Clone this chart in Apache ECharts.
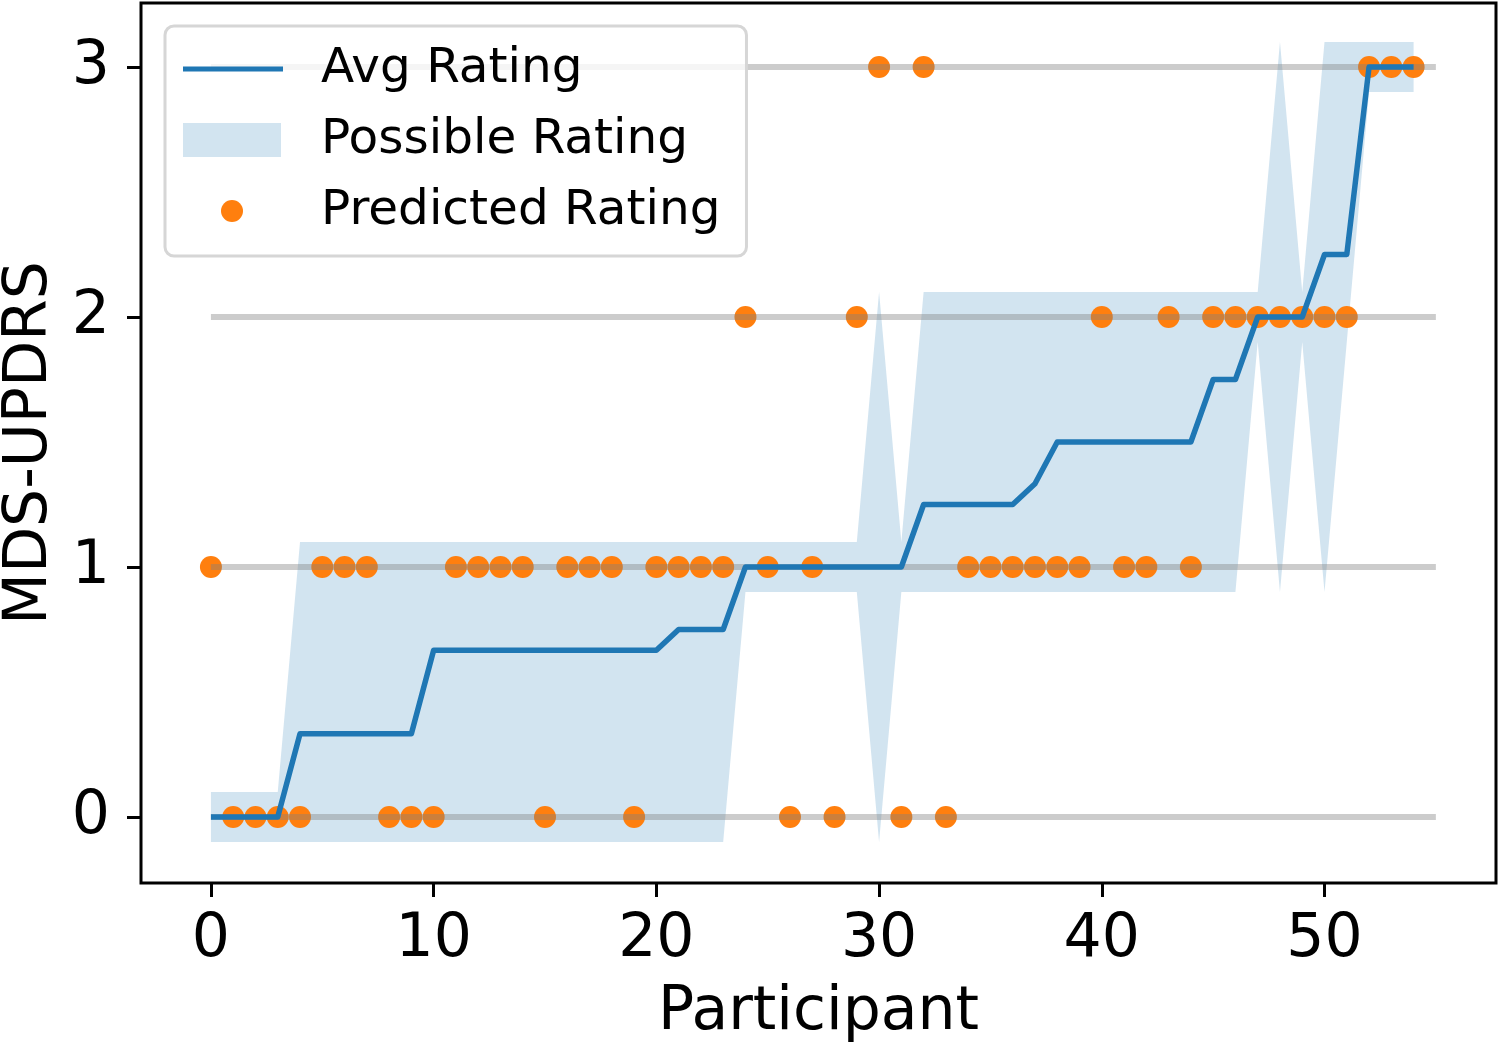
<!DOCTYPE html>
<html>
<head>
<meta charset="utf-8">
<script src="https://cdn.jsdelivr.net/npm/echarts@6/dist/echarts.min.js"></script>
<style>
html,body{margin:0;padding:0;background:#fff;}
#chart{width:1500px;height:1046px;}
</style>
</head>
<body>
<div id="chart"></div>
<script>
// ---- data ----
const participants = [0,1,2,3,4,5,6,7,8,9,10,11,12,13,14,15,16,17,18,19,20,21,22,23,24,25,26,27,28,29,30,31,32,33,34,35,36,37,38,39,40,41,42,43,44,45,46,47,48,49,50,51,52,53,54];
const avgRating = [0,0,0,0,0.333,0.333,0.333,0.333,0.333,0.333,0.667,0.667,0.667,0.667,0.667,0.667,0.667,0.667,0.667,0.667,0.667,0.75,0.75,0.75,1,1,1,1,1,1,1,1,1.25,1.25,1.25,1.25,1.25,1.333,1.5,1.5,1.5,1.5,1.5,1.5,1.5,1.75,1.75,2,2,2,2.25,2.25,3,3,3];
const possibleLower = [-0.1,-0.1,-0.1,-0.1,-0.1,-0.1,-0.1,-0.1,-0.1,-0.1,-0.1,-0.1,-0.1,-0.1,-0.1,-0.1,-0.1,-0.1,-0.1,-0.1,-0.1,-0.1,-0.1,-0.1,0.9,0.9,0.9,0.9,0.9,0.9,-0.1,0.9,0.9,0.9,0.9,0.9,0.9,0.9,0.9,0.9,0.9,0.9,0.9,0.9,0.9,0.9,0.9,1.9,0.9,1.9,0.9,1.9,2.9,2.9,2.9];
const possibleUpper = [0.1,0.1,0.1,0.1,1.1,1.1,1.1,1.1,1.1,1.1,1.1,1.1,1.1,1.1,1.1,1.1,1.1,1.1,1.1,1.1,1.1,1.1,1.1,1.1,1.1,1.1,1.1,1.1,1.1,1.1,2.1,1.1,2.1,2.1,2.1,2.1,2.1,2.1,2.1,2.1,2.1,2.1,2.1,2.1,2.1,2.1,2.1,2.1,3.1,2.1,3.1,3.1,3.1,3.1,3.1];
const predictedRating = [1,0,0,0,0,1,1,1,0,0,0,1,1,1,1,0,1,1,1,0,1,1,1,1,2,1,0,1,0,2,3,0,3,0,1,1,1,1,1,1,2,1,1,2,1,2,2,2,2,2,2,2,3,3,3];
const ratingLevels = [0,1,2,3];
const levelLineStart = 0;
const levelLineEnd = 55;
const xTicks = [0,10,20,30,40,50];
const yTicks = [0,1,2,3];

// ---- chart ----
const FONT = 'DejaVu Sans';
const chart = echarts.init(document.getElementById('chart'), null, {renderer:'canvas'});

const levelSeries = ratingLevels.map(k => ({
  type:'line', name:'level'+k, z:3, silent:true, symbol:'none',
  data:[[levelLineStart,k],[levelLineEnd,k]],
  lineStyle:{color:'rgba(128,128,128,0.4)', width:6}
}));

// legend icons (box 133 x 34, drawn part at left 100px)
const ICON_LINE = 'path://M0,0M133,34M0,14.5L100,14.5L100,19.5L0,19.5Z';
const ICON_PATCH = 'path://M0,0M133,34M0,0L98,0L98,34L0,34Z';
const ICON_DOT = 'path://M0,0M133,34M38,17A11,11,0,1,1,60,17A11,11,0,1,1,38,17Z';

const option = {
  animation:false,
  backgroundColor:'#fff',
  textStyle:{fontFamily:FONT},
  grid:{left:141, right:4, top:3, bottom:163, show:true, borderColor:'#000', borderWidth:3, backgroundColor:'transparent', containLabel:false, outerBoundsMode:'none'},
  legend:{
    orient:'vertical', left:165, top:26,
    padding:[17,26,19,18],
    itemGap:19, itemWidth:133, itemHeight:34,
    backgroundColor:'rgba(255,255,255,0.8)',
    borderColor:'#d6d6d6', borderWidth:3, borderRadius:9,
    textStyle:{fontFamily:FONT, fontSize:48.5, color:'#000', lineHeight:48, padding:[4,0,0,0]},
    selectedMode:false,
    data:[
      {name:'Avg Rating', icon:ICON_LINE, itemStyle:{color:'#1f77b4', opacity:1}},
      {name:'Possible Rating', icon:ICON_PATCH, itemStyle:{color:'rgba(31,119,180,0.2)'}},
      {name:'Predicted Rating', icon:ICON_DOT, itemStyle:{color:'#ff7f0e', opacity:1}}
    ]
  },
  xAxis:{
    type:'value', min:-3.14, max:57.7,
    name:'Participant', nameLocation:'middle', nameGap:100,
    nameTextStyle:{fontFamily:FONT, fontSize:60, color:'#000'},
    axisLine:{show:false, onZero:false},
    axisTick:{show:true, length:14, lineStyle:{color:'#000', width:3}, customValues:xTicks},
    axisLabel:{fontFamily:FONT, fontSize:60, color:'#000', margin:27, customValues:xTicks},
    splitLine:{show:false}
  },
  yAxis:{
    type:'value', min:-0.264, max:3.256,
    name:'MDS-UPDRS', nameLocation:'middle', nameGap:81, nameRotate:90,
    nameTextStyle:{fontFamily:FONT, fontSize:60, color:'#000'},
    axisLine:{show:false, onZero:false},
    axisTick:{show:true, length:14, lineStyle:{color:'#000', width:3}, customValues:yTicks},
    axisLabel:{fontFamily:FONT, fontSize:60, color:'#000', margin:31, customValues:yTicks},
    splitLine:{show:false}
  },
  series:[
    {
      type:'custom', name:'Possible Rating', z:1, silent:true,
      coordinateSystem:'cartesian2d',
      data:[[participants[0], possibleLower[0]]],
      encode:{x:0, y:1},
      itemStyle:{color:'rgba(31,119,180,0.2)'},
      renderItem:function(params, api){
        const pts = [];
        for (let i=0;i<participants.length;i++) pts.push(api.coord([participants[i], possibleUpper[i]]));
        for (let i=participants.length-1;i>=0;i--) pts.push(api.coord([participants[i], possibleLower[i]]));
        return {type:'polygon', shape:{points:pts}, style:{fill:'rgba(31,119,180,0.2)'}};
      }
    },
    {
      type:'scatter', name:'Predicted Rating', z:2, symbol:'circle', symbolSize:22,
      itemStyle:{color:'#ff7f0e', opacity:1},
      data:participants.map((p,i)=>[p, predictedRating[i]])
    },
    ...levelSeries,
    {
      type:'line', name:'Avg Rating', z:4, symbol:'none',
      lineStyle:{color:'#1f77b4', width:5.5, join:'round'},
      itemStyle:{color:'#1f77b4'},
      data:participants.map((p,i)=>[p, avgRating[i]])
    }
  ]
};
chart.setOption(option);
</script>
</body>
</html>
